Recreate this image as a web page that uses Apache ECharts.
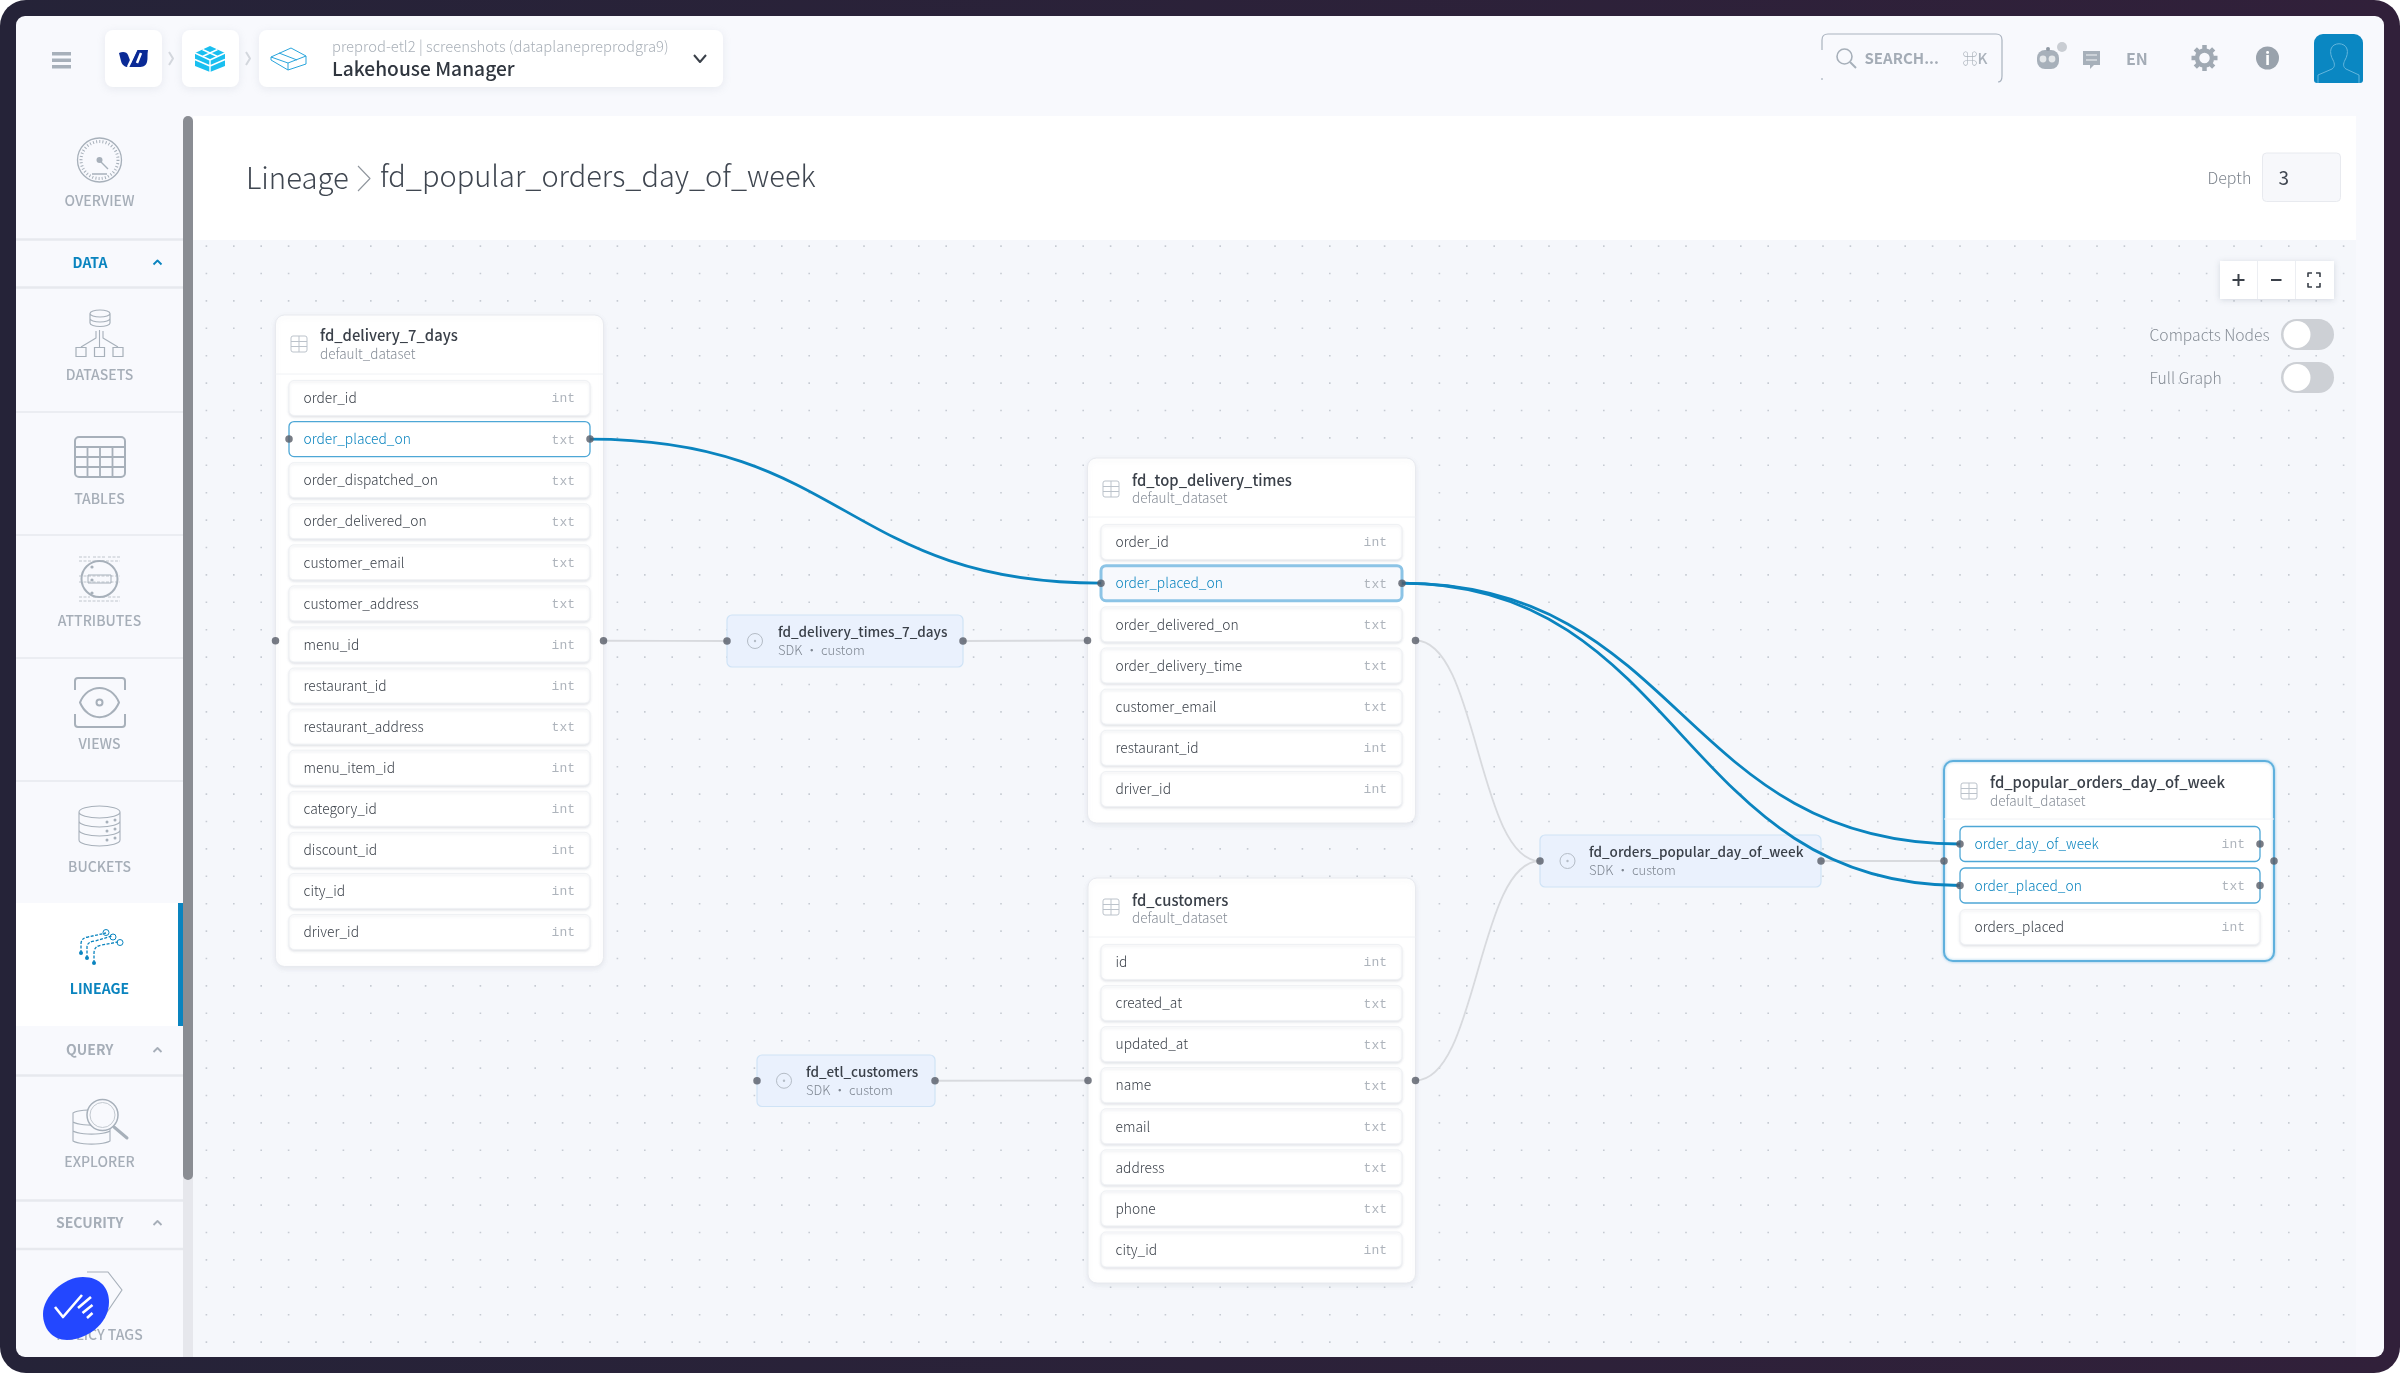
<!DOCTYPE html>
<html><head><meta charset="utf-8">
<script src="https://cdn.jsdelivr.net/npm/echarts@6/dist/echarts.min.js"></script>
<style>html,body{margin:0;padding:0;background:#fff}#c{width:2400px;height:1373px}</style></head>
<body><div id="c"></div>
<script>
// ---------- content ----------
const sectionLabels = ['DATA', 'QUERY', 'SECURITY'];
const sidebarLabels = ['OVERVIEW', 'DATASETS', 'TABLES', 'ATTRIBUTES', 'VIEWS', 'BUCKETS', 'LINEAGE', 'EXPLORER', 'POLICY TAGS'];
const deliveryColumns = ['order_id','order_placed_on','order_dispatched_on','order_delivered_on','customer_email','customer_address','menu_id','restaurant_id','restaurant_address','menu_item_id','category_id','discount_id','city_id','driver_id'];
const deliveryTypes = ['int','txt','txt','txt','txt','txt','int','int','txt','int','int','int','int','int'];
const topColumns = ['order_id','order_placed_on','order_delivered_on','order_delivery_time','customer_email','restaurant_id','driver_id'];
const topTypes = ['int','txt','txt','txt','txt','int','int'];
const customerColumns = ['id','created_at','updated_at','name','email','address','phone','city_id'];
const customerTypes = ['int','txt','txt','txt','txt','txt','txt','int'];
const popularColumns = ['order_day_of_week','order_placed_on','orders_placed'];
const popularTypes = ['int','txt','int'];
const tableNames = ['fd_delivery_7_days','fd_top_delivery_times','fd_customers','fd_popular_orders_day_of_week'];
const jobNames = ['fd_delivery_times_7_days','fd_orders_popular_day_of_week','fd_etl_customers'];
const tableEdges = [
  ['fd_delivery_7_days','fd_delivery_times_7_days'],['fd_delivery_times_7_days','fd_top_delivery_times'],
  ['fd_top_delivery_times','fd_orders_popular_day_of_week'],['fd_etl_customers','fd_customers'],
  ['fd_customers','fd_orders_popular_day_of_week'],['fd_orders_popular_day_of_week','fd_popular_orders_day_of_week']];
const fieldEdges = [
  ['fd_delivery_7_days','order_placed_on','fd_top_delivery_times','order_placed_on'],
  ['fd_top_delivery_times','order_placed_on','fd_popular_orders_day_of_week','order_day_of_week'],
  ['fd_top_delivery_times','order_placed_on','fd_popular_orders_day_of_week','order_placed_on']];

// ---------- layout & style ----------
const F = '"Noto Sans CJK SC","Noto Sans",sans-serif', M = '"Liberation Mono",monospace';
const BLUE = '#0a84bf', ICON = '#a7b0ba', LABEL = '#a6aeb8', INK = '#3a4049';
const columnsOf = {fd_delivery_7_days:[deliveryColumns,deliveryTypes],fd_top_delivery_times:[topColumns,topTypes],fd_customers:[customerColumns,customerTypes],fd_popular_orders_day_of_week:[popularColumns,popularTypes]};
const boxes = {
  fd_delivery_7_days:{x:275.5,y:315,r:603.5,b:966.5,sep:374,rowX:289,rowR:590,row0:398,step:41.08,ty:335.5,sy:354,tx:320,ix:299,iy:344},
  fd_top_delivery_times:{x:1087.5,y:458,r:1415.5,b:823,sep:517,rowX:1101,rowR:1402,row0:542,step:41.17,ty:480,sy:498,tx:1132,ix:1111,iy:489},
  fd_customers:{x:1088,y:878,r:1415.5,b:1283,sep:937,rowX:1101,rowR:1402,row0:962,step:41.07,ty:900,sy:918,tx:1132,ix:1111,iy:907},
  fd_popular_orders_day_of_week:{x:1944,y:761,r:2274,b:961,sep:819,rowX:1960,rowR:2260,row0:844,step:41.5,ty:782,sy:801,tx:1990,ix:1969,iy:791},
  fd_delivery_times_7_days:{x:727,y:615,r:963,b:667,tx:778,ix:755},
  fd_orders_popular_day_of_week:{x:1540,y:835,r:1821,b:887,tx:1589,ix:1567.5},
  fd_etl_customers:{x:757,y:1055,r:935,b:1106.5,tx:806,ix:784}};
const midY = n => (boxes[n].y + boxes[n].b) / 2;
const rowY = (n, c) => boxes[n].row0 + columnsOf[n][0].indexOf(c) * boxes[n].step;
const activeRows = {}; fieldEdges.forEach(e => { activeRows[e[0]+'.'+e[1]] = 1; activeRows[e[2]+'.'+e[3]] = 1; });

// primitive builders
const R = (x,y,w,h,o={}) => ({type:'rect',shape:{x,y,width:w,height:h,r:o.r||0},style:{fill:o.fill||null,stroke:o.stroke||null,lineWidth:o.lw||1,shadowBlur:o.blur||0,shadowColor:o.sc||'transparent',shadowOffsetY:o.oy||0}});
const T = (text,x,y,o={}) => ({type:'text',style:{text,x,y,fill:o.color||INK,fontSize:o.size||15,fontWeight:o.weight||400,fontFamily:o.family||F,align:o.align||'left',verticalAlign:'middle'}});
const C = (cx,cy,r,o={}) => ({type:'circle',shape:{cx,cy,r},style:{fill:o.fill||null,stroke:o.stroke||null,lineWidth:o.lw||1,lineDash:o.dash||null}});
const P = (d,o={}) => ({type:'path',shape:{pathData:'M0 0L0 0M2400 1373L2400 1373'+d,x:0,y:0,width:2400,height:1373,layout:'cover'},layout:'cover',style:{fill:o.fill||null,stroke:o.stroke||null,lineWidth:o.lw||1,lineDash:o.dash||null,lineCap:o.cap||'butt',lineJoin:'round'}});

function chrome() {
  const k = [];
  // frame
  k.push({type:'rect',shape:{x:0,y:0,width:2400,height:1373,r:26},style:{fill:new echarts.graphic.LinearGradient(0,0,1,0,[{offset:0,color:'#252338'},{offset:1,color:'#31203a'}])}});
  k.push(R(16,16,2368,1341,{r:9,fill:'#f8f9fd'}));
  // canvas + header
  k.push(R(193,240,2163,1117,{fill:'#f5f7fb'}));
  let dots=''; const dx=27.4;
  for(let i=0;i<=78;i++)for(let j=0;j<=40;j++){const x=205.6+i*dx,y=245.3+j*dx;dots+=`M${x} ${y}h1.6v1.6h-1.6z`;}
  k.push(P(dots,{fill:'#c6cbd3'}));
  k.push(R(193,116,2163,124,{fill:'#ffffff'}));
  // sidebar scroll
  k.push(R(183,1170,10,187,{fill:'#e6e7ec'}));
  k.push(R(183,116,10,1064,{r:[5,5,5,5],fill:'#8a8d93'}));
  // top bar
  k.push(R(52,52,19,3.5,{fill:ICON}),R(52,58.5,19,3.5,{fill:ICON}),R(52,65,19,3.5,{fill:ICON}));
  const chip={r:8,fill:'#fff',blur:8,sc:'rgba(150,160,180,.18)',oy:2};
  k.push(R(105,30,57,57,chip),R(182,30,57,57,chip),R(259,30,464,57,chip));
  k.push(P('M169 52l4 6.5l-4 6.5M246 52l4 6.5l-4 6.5',{stroke:'#d3d7dd',lw:2}));
  k.push(P('M119 53C123 51 127 52 128 55L131 63L137 50L148 50C147 55 148 58 147 62C146 66 143 67 139 67L128 67C125 67 122 65 121 61Z',{fill:'#0a2a96'}));
  k.push(P('M137 48l-9 19M141 53l-4 10',{stroke:'#fff',lw:2.5}));
  k.push(P('M210 46L225 53V66L210 72L195 66V53Z',{fill:'#19bff0'}));
  k.push(P('M195 53L210 60L225 53M210 60V72M202.5 49.5L217.5 56.5M217.5 49.5L202.5 56.5M195 59.5L210 66L225 59.5',{stroke:'#fff',lw:1.4}));
  k.push(P('M271 57L291 48L306 56V64L288 70L271 60ZM271 57L288 63L306 56M288 63V70M279 53L297 60',{stroke:'#2aa5dc',lw:1}));
  k.push(T('preprod-etl2 | screenshots (dataplanepreprodgra9)',332,46,{size:14.8,weight:300,color:'#a9b0b8'}));
  k.push(T('Lakehouse Manager',332,69,{size:19.2,weight:500,color:'#30363f'}));
  k.push(P('M694 55l6 7l6 -7',{stroke:'#3a4049',lw:2}));
  // search & tools
  k.push(P('M1822 80V40Q1822 34 1828 34H1996Q2002 34 2002 40V76Q2002 82 1998 82',{stroke:'#aab3bf',lw:1.2}));
  k.push(R(1820,50,4,28,{fill:'#f8f9fd'}));
  k.push(C(1844.5,56.5,7.5,{stroke:ICON,lw:1.6}),P('M1850 62l6 6',{stroke:ICON,lw:2}));
  k.push(T('SEARCH...',1864.5,58,{size:15,weight:700,color:'#a4acb6'}));
  k.push(T('⌘K',1962.5,58,{size:15,weight:500,color:'#aab2bb'}));
  k.push(R(2037,50,22,19,{r:8,fill:'#a7b0ba'}),C(2043,59,3.4,{fill:'#e4e7ea'}),C(2052,59,3.4,{fill:'#e4e7ea'}),C(2062,47,5,{fill:'#c9cdd3'}),C(2048,49,2,{fill:'#8f99a3'}));
  k.push(P('M2083 51H2100V65H2094L2090 69V65H2083Z',{fill:'#a7b0ba'}),P('M2086 55H2097M2086 60H2097',{stroke:'#f2f4f6',lw:1}));
  k.push(T('EN',2126,59,{size:16,weight:700,color:'#a4acb6'}));
  let teeth=''; for(let a=0;a<8;a++){const s=Math.sin(a*Math.PI/4),c=Math.cos(a*Math.PI/4);teeth+=`M${2204.5+9*c} ${58+9*s}L${2204.5+13*c} ${58+13*s}`;}
  k.push(P(teeth,{stroke:'#a0a9b3',lw:4.5}),C(2204.5,58,7.5,{stroke:'#a0a9b3',lw:4.5}));
  k.push(C(2267.5,58,11.5,{fill:'#99a2ac'}),T('i',2267.5,58.5,{size:17,weight:700,color:'#fff',align:'center'}));
  k.push(R(2314,34,49,49,{r:[9,9,3,3],fill:'#0a87c2'}));
  k.push(P('M2318 83V75L2332 69C2335 67 2335 64 2333 60C2331 57 2330 52 2331 49C2333 42 2345 42 2347 49C2348 52 2347 57 2345 60C2343 64 2343 67 2346 69L2359 75V83',{stroke:'#63b6dd',lw:1}));
  // page title
  k.push(T('Lineage',246,178,{size:29.3,weight:300,color:'#3f4650'}));
  k.push(P('M358 166l12 12.5l-12 12.5',{stroke:'#8f959d',lw:1.1}));
  k.push(T('fd_popular_orders_day_of_week',380,176,{size:29,weight:300,color:'#3f4650'}));
  k.push(T('Depth',2207.5,178,{size:16,weight:300,color:'#7d848d'}));
  k.push(R(2262.5,153,78,48.5,{r:4,fill:'#f7f8fb',stroke:'#e8eaef'}));
  k.push(T('3',2278.5,178,{size:19,weight:400,color:'#3f4650'}));
  // zoom controls & toggles
  k.push(R(2220,261,114,38,{fill:'#fff',blur:6,sc:'rgba(130,140,160,.3)',oy:1}));
  k.push(P('M2257.5 261V299M2295.5 261V299',{stroke:'#eceef2',lw:1}));
  k.push(P('M2238.5 274V286M2232.5 280H2244.5M2271 280H2281.5',{stroke:'#3a4049',lw:2}));
  k.push(P('M2308 277V273H2312M2316 273H2320V277M2308 283V287H2312M2316 287H2320V283',{stroke:'#3a4049',lw:1.6}));
  [['Compacts Nodes',335,319],['Full Graph',378,362]].forEach(t=>{
    k.push(T(t[0],2149.5,t[1],{size:15.7,weight:300,color:'#868d96'}));
    k.push(R(2281,t[2],53,31,{r:15.5,fill:'#cdd0d5'}),C(2297,t[2]+15.5,13.5,{fill:'#fff'}));
  });
  // sidebar items
  const sideText=(s,y,c,w)=>T(s,99.5,y,{size:14,weight:w||500,color:c||LABEL,align:'center'});
  const div=(y,lw)=>R(16,y-lw/2,167,lw,{fill:'#e7e9ee'});
  k.push(R(16,903,162,123,{fill:'#fff'}),R(178,903,5,123,{fill:BLUE}));
  [[239.5,2.5],[287.5,2.5],[412,1.5],[535,1.5],[658,1.5],[781,1.5],[1075.5,2.5],[1200.5,2.5],[1249,2.5]].forEach(d=>k.push(div(d[0],d[1])));
  [201,375,499,621,744,867,989,1162,1335].forEach((y,i)=>k.push(sideText(sidebarLabels[i],y,i===6?BLUE:LABEL,i===6?700:500)));
  [[90,262.5,157.5,BLUE],[89.7,1050,157.5,LABEL],[89.7,1223,157.5,LABEL]].forEach((s,i)=>{
    k.push(T(sectionLabels[i],s[0],s[1],{size:14,weight:700,color:s[3],align:'center'}));
    k.push(P(`M${s[2]-4} ${s[1]+2}l4 -4l4 4`,{stroke:s[3],lw:1.8}));
  });
  // overview
  k.push(C(99.5,160,22,{stroke:ICON,lw:1.3}),C(99.5,160,18.5,{stroke:ICON,lw:3,dash:[1,2.2]}),C(99.5,160,3,{fill:ICON}));
  k.push(P('M100 161l8 8M92 174h15',{stroke:ICON,lw:1.4}));
  // datasets
  k.push(P('M90 313.5A10 3.5 0 0 1 110 313.5V323A10 3.5 0 0 1 90 323ZM90 313.5A10 3.5 0 0 0 110 313.5M90 318.5A10 3.5 0 0 0 110 318.5',{stroke:ICON,lw:1.2}));
  k.push(P('M99.5 330V347M96 331V338L81 347M103 331V338L118 347',{stroke:ICON,lw:1.1}));
  k.push(R(76,347.5,10,9,{stroke:ICON,lw:1.2}),R(94.5,347.5,10,9,{stroke:ICON,lw:1.2}),R(113,347.5,10,9,{stroke:ICON,lw:1.2}));
  // tables
  k.push(R(75,437,50,40,{r:4,stroke:ICON,lw:2}));
  k.push(P('M87.5 447V477M100 447V477M112.5 447V477M75 447H125M75 457H125M75 467H125',{stroke:ICON,lw:1.8}));
  // attributes
  k.push(P('M79 557H90M93 557H105M108 557H120M79 561H120M79 576H120M79 582H120M79 597H90M93 597H105M108 597H120M79 601H120',{stroke:'#c0c6cd',lw:1,dash:[3,1.5]}));
  k.push(C(99.5,579,18,{stroke:ICON,lw:2}),R(88,575,23,8,{stroke:ICON,lw:1}),C(92,580,1.6,{fill:ICON}),C(92,567,1.6,{fill:ICON}),C(92,593,1.6,{fill:ICON}));
  // views
  k.push(P('M75 690V681Q75 678 78 678H122Q125 678 125 681V690M75 714V724Q75 727 78 727H122Q125 727 125 724V714M80 702.5C88 683 111 683 119 702.5C111 722 88 722 80 702.5Z',{stroke:ICON,lw:2}));
  k.push(C(99.5,702.5,3,{stroke:ICON,lw:2}));
  // buckets
  k.push(P('M79 812A20.5 6 0 0 1 120 812V840A20.5 6 0 0 1 79 840ZM79 812A20.5 6 0 0 0 120 812M79 821A20.5 6 0 0 0 120 821M79 830A20.5 6 0 0 0 120 830',{stroke:ICON,lw:1.1}));
  k.push(C(107,822,1.5,{fill:ICON}),C(115,820,1.5,{fill:ICON}),C(107,831,1.5,{fill:ICON}),C(115,829,1.5,{fill:ICON}),C(107,840,1.5,{fill:ICON}),C(115,838,1.5,{fill:ICON}));
  // lineage
  k.push(P('M81 953V944Q81 938 88 937L106 933M87 958V947Q87 942 95 941L112 936M94 963V953Q94 946 102 945L118 942',{stroke:BLUE,lw:1.3,dash:[3,1.5]}));
  k.push(C(106,932.5,3,{stroke:BLUE,lw:1}),C(113,937,3,{stroke:BLUE,lw:1}),C(120,942.5,3,{stroke:BLUE,lw:1}),C(81,953,2,{fill:BLUE}),C(87,958,2,{fill:BLUE}),C(94,963,2,{fill:BLUE}));
  // explorer
  k.push(P('M73 1113A20 5 0 0 1 110 1113V1141A20 5 0 0 1 73 1141ZM73 1122A20 5 0 0 0 110 1122M73 1131A20 5 0 0 0 110 1131',{stroke:ICON,lw:1.1}));
  k.push(C(102.5,1115,15.5,{fill:'#f8f9fd',stroke:ICON,lw:1.5}),C(102.5,1115,12.5,{stroke:'#c3c9d0',lw:1}));
  k.push(P('M114 1127L127 1138',{stroke:ICON,lw:3,cap:'round'}));
  // policy tag & widget
  k.push(P('M87 1272H108L122 1290L103 1318L80 1310',{stroke:ICON,lw:1.2}));
  k.push(P('M83 1277C100 1277 109 1288 109 1302C109 1325 85 1340 67 1340C52 1340 43 1328 43 1314C43 1296 64 1277 83 1277Z',{fill:'#2347ff'}));
  k.push(P('M55 1307L63 1317L82 1295',{stroke:'#fff',lw:2.6}));
  k.push(P('M78 1308L91 1297M82.5 1313L92.5 1305M87 1318L92.5 1313',{stroke:'#fff',lw:2.6}));
  return {type:'group',children:k};
}

function nodeItem(params, api) {
  const name = nodeNames[params.dataIndex], b = boxes[name];
  const p0 = api.coord([b.x,b.y]), p1 = api.coord([b.r,b.b]);
  const X = p0[0], Y = p0[1], W = p1[0]-p0[0], H = p1[1]-p0[1], k = [];
  const ofs = v => v - b.x + X;
  if (!columnsOf[name]) {
    const cy = Y+H/2;
    k.push(R(X,Y,W,H,{r:5,fill:'#eaf1fd',stroke:'#cfe3f6',lw:1.2}));
    k.push(C(ofs(b.ix),cy,7.5,{stroke:'#b4bcc6',lw:1}),C(ofs(b.ix),cy,1.2,{fill:'#b4bcc6'}));
    k.push(T(name,ofs(b.tx),cy-9,{size:13.5,weight:500,color:'#3a4049'}));
    k.push(T('SDK · custom',ofs(b.tx),cy+9.5,{size:13,weight:300,color:'#7f8792'}));
  } else {
    const selected = name === 'fd_popular_orders_day_of_week';
    k.push(R(X,Y,W,H,{r:9,fill:'#fff',stroke:selected?'#5fb0dd':'#e8eaef',lw:selected?2:1,blur:selected?3:5,sc:selected?'rgba(95,176,221,.6)':'rgba(140,150,170,.15)',oy:selected?0:2}));
    k.push(P(`M${X} ${b.sep}H${X+W}`,{stroke:'#f0f2f5',lw:1}));
    k.push(R(ofs(b.ix)-8,b.iy-8,16,16,{r:2,stroke:'#bcc3cb',lw:1}));
    k.push(P(`M${ofs(b.ix)} ${b.iy-8}V${b.iy+8}M${ofs(b.ix)-8} ${b.iy-2.5}H${ofs(b.ix)+8}M${ofs(b.ix)-8} ${b.iy+2.5}H${ofs(b.ix)+8}`,{stroke:'#bcc3cb',lw:1}));
    k.push(T(name,ofs(b.tx),b.ty,{size:14.8,weight:500,color:'#3a4049'}));
    k.push(T('default_dataset',ofs(b.tx),b.sy,{size:13.5,weight:300,color:'#858c96'}));
    const [cols,types] = columnsOf[name];
    cols.forEach((c,i)=>{
      const y = b.row0 + i*b.step, act = activeRows[name+'.'+c];
      const strong = act && name === 'fd_top_delivery_times';
      k.push(R(ofs(b.rowX),y-17.5,b.rowR-b.rowX,35,{r:5,fill:strong?'#f7f9fd':'#fff',stroke:act?(strong?'#8cc4e6':'#4ea7d6'):'#eff1f4',lw:strong?3:(act?1.3:1),blur:act?0:2.5,sc:'rgba(140,150,170,.22)',oy:act?0:1.5}));
      k.push(T(c,ofs(b.rowX)+14.5,y,{size:13.8,weight:300,color:act?BLUE:'#3a4049'}));
      k.push(T(types[i],ofs(b.rowR)-15,y+1,{size:13,family:M,color:'#aeb4bc',align:'right'}));
    });
  }
  return {type:'group',children:k};
}

function edgeItem(params, api) {
  const e = edgeList[params.dataIndex];
  const a = api.coord([e[0],e[1]]), c = api.coord([e[2],e[3]]), m = (a[0]+c[0])/2;
  return {type:'bezierCurve',shape:{x1:a[0],y1:a[1],x2:c[0],y2:c[1],cpx1:m,cpy1:a[1],cpx2:m,cpy2:c[1]},
    style:{fill:null,stroke:e[4]?BLUE:'#d8dade',lineWidth:e[4]?2.8:1.8}};
}

// ---------- derived marks ----------
const nodeNames = [...tableNames, ...jobNames];
const edgeList = [
  ...tableEdges.map(e => [boxes[e[0]].r, midY(e[0]), boxes[e[1]].x, midY(e[1]), 0]),
  ...fieldEdges.map(e => [boxes[e[0]].rowR, rowY(e[0],e[1]), boxes[e[2]].rowX, rowY(e[2],e[3]), 1])];
const handles = [];
nodeNames.forEach(n => handles.push([boxes[n].x, midY(n)], [boxes[n].r, midY(n)]));
Object.keys(activeRows).forEach(k => { const [n,c] = k.split('.'); handles.push([boxes[n].rowX, rowY(n,c)], [boxes[n].rowR, rowY(n,c)]); });

const chart = echarts.init(document.getElementById('c'), null, {renderer:'canvas'});
chart.setOption({
  animation:false, backgroundColor:'#ffffff',
  grid:{left:0,right:0,top:0,bottom:0},
  xAxis:{type:'value',min:0,max:2400,show:false},
  yAxis:{type:'value',min:0,max:1373,inverse:true,show:false},
  tooltip:{show:false},
  series:[
    {type:'custom',coordinateSystem:'none',silent:true,z:1,data:[0],renderItem:()=>chrome()},
    {type:'custom',silent:true,z:2,clip:false,data:nodeNames.map(n=>[boxes[n].x,boxes[n].y]),renderItem:nodeItem},
    {type:'custom',silent:true,z:3,clip:false,data:edgeList.map(e=>[e[0],e[1]]),renderItem:edgeItem},
    {type:'scatter',silent:true,z:4,symbolSize:7.5,itemStyle:{color:'#565b67'},data:handles}
  ]
});
</script></body></html>
